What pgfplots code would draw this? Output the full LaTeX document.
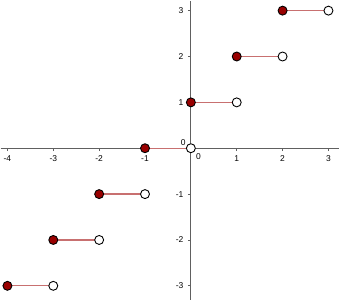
\documentclass[border=0pt]{standalone}
\usepackage{pgfplots}
\pgfplotsset{compat=1.18}
\usepackage{fontspec}
\setmainfont{Liberation Sans}
\definecolor{axgray}{HTML}{606060}
\definecolor{segred}{HTML}{C87070}
\definecolor{dotred}{HTML}{990000}
\begin{document}
\begin{tikzpicture}
\begin{axis}[
  scale only axis,
  width=340pt, height=300pt,
  xmin=-4.15, xmax=3.24,
  ymin=-3.30, ymax=3.22,
  axis lines=middle,
  axis line style={-, axgray, line width=1.1pt},
  xtick={-4,-3,-2,-1,1,2,3},
  ytick={-3,-2,-1,1,2,3},
  tick style={axgray, line width=0.8pt},
  tick align=outside,
  major tick length=3pt,
  tick label style={font=\fontsize{8.5}{10}\selectfont, text=black},
  xticklabel style={yshift=-1pt},
  yticklabel style={xshift=-1pt},
  /pgf/number format/assume math mode=true,
  clip=false,
]
\addplot[segred, line width=1.3pt] coordinates {(-4,-3) (-3,-3)};
\addplot[segred, line width=1.3pt] coordinates {(-3,-2) (-2,-2)};
\addplot[segred, line width=1.3pt] coordinates {(-2,-1) (-1,-1)};
\addplot[segred, line width=1.3pt] coordinates {(-1,0) (0,0)};
\addplot[segred, line width=1.3pt] coordinates {(0,1) (1,1)};
\addplot[segred, line width=1.3pt] coordinates {(1,2) (2,2)};
\addplot[segred, line width=1.3pt] coordinates {(2,3) (3,3)};
\addplot[only marks, mark=*, mark size=4.5pt, mark options={fill=dotred, draw=black, line width=0.9pt}]
  coordinates {(-4,-3) (-3,-2) (-2,-1) (-1,0) (0,1) (1,2) (2,3)};
\addplot[only marks, mark=*, mark size=4.5pt, mark options={fill=white, draw=black, line width=0.9pt}]
  coordinates {(-3,-3) (-2,-2) (-1,-1) (0,0) (1,1) (2,2) (3,3)};
\node[font=\fontsize{8.5}{10}\selectfont, anchor=south east, inner sep=1pt] at (axis cs:0,0) [xshift=-4pt, yshift=1pt] {0};
\node[font=\fontsize{8.5}{10}\selectfont, anchor=north west, inner sep=1pt] at (axis cs:0,0) [xshift=4pt, yshift=-4pt] {0};
\end{axis}
\end{tikzpicture}
\end{document}
